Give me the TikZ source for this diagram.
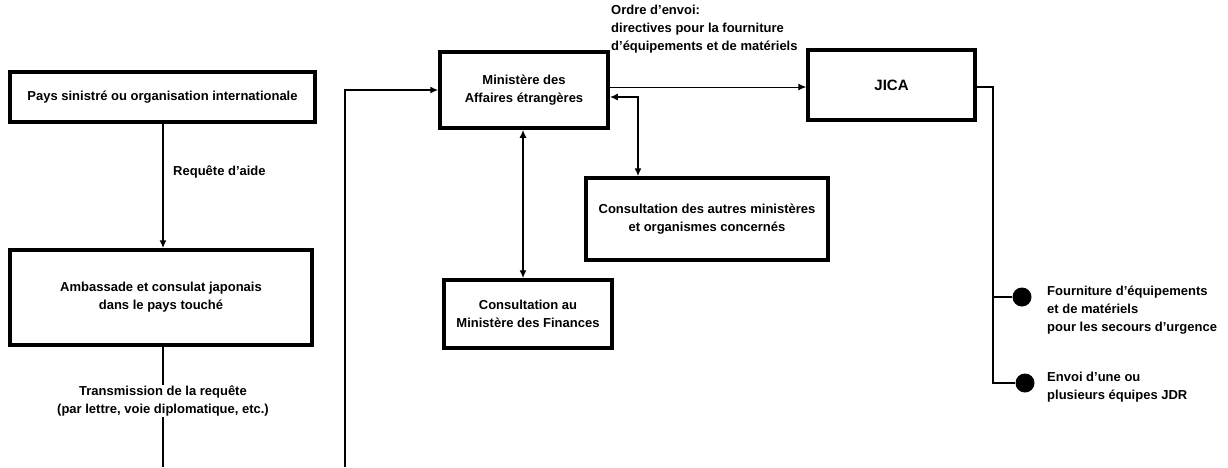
\documentclass[tikz,border=0pt]{standalone}
\usepackage{fontspec}
\setmainfont{Liberation Sans}
\usetikzlibrary{arrows.meta}
\begin{document}
\begin{tikzpicture}[x=1pt,y=-1pt,
  box/.style={draw,line width=3.5pt,align=center,inner sep=2pt,font=\fontsize{13}{18}\selectfont\bfseries},
  lbl/.style={align=center,font=\fontsize{13}{18}\selectfont\bfseries,inner sep=1pt},
  conn/.style={line width=2.5pt},
  arr/.style={line width=2.5pt,-{Latex[length=8pt,width=7pt]}},
  darr/.style={line width=2.5pt,{Latex[length=8pt,width=7pt]}-{Latex[length=8pt,width=7pt]}},
  dot/.style={circle,fill,inner sep=0pt,minimum size=19pt}]
\useasboundingbox (0,0) rectangle (1228,467);
\node[box,minimum width=305pt,minimum height=50pt] (pays) at (162.5,97) {Pays sinistré ou organisation internationale};
\node[box,minimum width=302pt,minimum height=95pt] (amb) at (161,297.5) {Ambassade et consulat japonais\\dans le pays touché};
\node[box,minimum width=168pt,minimum height=76pt] (mae) at (524,90) {Ministère des\\Affaires étrangères};
\node[box,minimum width=167pt,minimum height=70pt,font=\fontsize{15}{18}\selectfont\bfseries] (jica) at (891.5,85) {JICA};
\node[box,minimum width=242pt,minimum height=82pt] (autres) at (707,219) {Consultation des autres ministères\\et organismes concernés};
\node[box,minimum width=168pt,minimum height=68pt] (fin) at (528,314) {Consultation au\\Ministère des Finances};

\draw[arr] (pays.south -| 163,0) -- (amb.north -| 163,0);
\node[lbl,anchor=west] (req) at (172,172) {Requête d'aide};

\node[lbl] (trans) at (163,401) {Transmission de la requête\\(par lettre, voie diplomatique, etc.)};
\draw[conn] (amb.south -| 163,0) -- (trans.north -| 163,0);
\coordinate (b1) at (163,467);
\draw[conn] (trans.south -| 163,0) -- (b1);

\coordinate (b2) at (345,467);
\coordinate (c2) at (345,90);
\draw[arr] (b2) -- (c2) -- (mae.west);

\coordinate (m1) at (mae.east |- 0,87);
\coordinate (j1) at (jica.west |- 0,87);
\draw[line width=1pt,-{Latex[length=8pt,width=7pt]}] (m1) -- (j1);
\node[lbl,anchor=north west,align=left] (ordre) at (610,4) {Ordre d'envoi:\\directives pour la fourniture\\d'équipements et de matériels};

\coordinate (m2) at (mae.east |- 0,97);
\coordinate (k2) at (638,97);
\coordinate (a2) at (autres.north -| 638,0);
\draw[darr] (m2) -- (k2) -- (a2);

\draw[darr] (mae.south -| 523,0) -- (fin.north -| 523,0);

\node[dot] (d1) at (1022,297) {};
\node[dot] (d2) at (1025,383) {};
\coordinate (jr) at (jica.east |- 0,87);
\coordinate (v1) at (993,87);
\draw[conn] (jr) -- (v1) -- (993,383) -- (d2);
\draw[conn] (993,297) -- (d1);
\node[lbl,anchor=north west,align=left] (t1) at (1046,285) {Fourniture d'équipements\\et de matériels\\pour les secours d'urgence};
\node[lbl,anchor=north west,align=left] (t2) at (1046,371) {Envoi d'une ou\\plusieurs équipes JDR};
\end{tikzpicture}
\end{document}
